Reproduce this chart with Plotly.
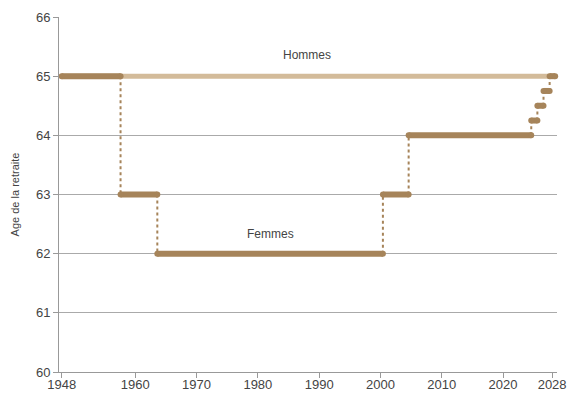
import plotly.graph_objects as go

# Data
step_years = [1948, 1957.6, 1963.6, 2000.4, 2004.6, 2024.6, 2025.6, 2026.6, 2027.6]
end_year = 2028.5
women_age = [65, 63, 62, 63, 64, 64.25, 64.5, 64.75, 65]
men_years = [1948, 2028.3]
men_age = [65, 65]
x_ticks = [1948, 1960, 1970, 1980, 1990, 2000, 2010, 2020, 2028]
y_ticks = [60, 61, 62, 63, 64, 65, 66]

DARK = "#a6845a"
LIGHT = "#d3bb9a"
FONT = "Liberation Sans, Arial, sans-serif"

fig = go.Figure()

# Hommes
fig.add_trace(go.Scatter(x=men_years, y=men_age, mode="lines+markers",
                         line=dict(color=LIGHT, width=5),
                         marker=dict(color=LIGHT, size=5),
                         hoverinfo="skip", showlegend=False))

# Femmes: vertical dotted connectors
vx, vy = [], []
for i in range(1, len(step_years)):
    vx += [step_years[i], step_years[i], None]
    vy += [women_age[i - 1], women_age[i], None]
fig.add_trace(go.Scatter(x=vx, y=vy, mode="lines",
                         line=dict(color=DARK, width=2, dash="dot"),
                         hoverinfo="skip", showlegend=False))

# Femmes: horizontal segments
ends = step_years[1:] + [end_year]
for x0, x1, a in zip(step_years, ends, women_age):
    fig.add_trace(go.Scatter(x=[x0, x1], y=[a, a], mode="lines+markers",
                             line=dict(color=DARK, width=6),
                             marker=dict(color=DARK, size=6),
                             cliponaxis=False,
                             hoverinfo="skip", showlegend=False))

fig.add_annotation(x=1988, y=65.35, text="Hommes", showarrow=False,
                   font=dict(family=FONT, size=12, color="#444"))
fig.add_annotation(x=1982, y=62.33, text="Femmes", showarrow=False,
                   font=dict(family=FONT, size=12, color="#444"))

fig.update_xaxes(range=[1947.56, 2028.8], tickvals=x_ticks,
                 ticktext=[str(t) for t in x_ticks],
                 showgrid=False, zeroline=False, automargin=False,
                 showline=True, linecolor="#999", linewidth=1,
                 ticks="outside", ticklen=5, tickcolor="#999",
                 ticklabelstandoff=-5,
                 tickfont=dict(family=FONT, size=13, color="#444"))
fig.update_yaxes(range=[60, 66], tickvals=y_ticks,
                 showgrid=True, gridcolor="#aaa", gridwidth=1,
                 zeroline=False, automargin=False,
                 showline=True, linecolor="#999", linewidth=1,
                 ticks="outside", ticklen=5, tickcolor="#999",
                 tickfont=dict(family=FONT, size=13, color="#444"),
                 title=dict(text="Age de la retraite", standoff=14,
                            font=dict(family=FONT, size=11, color="#444")))

fig.update_layout(width=568, height=394,
                  margin=dict(l=59, r=11, t=17, b=22),
                  plot_bgcolor="white", paper_bgcolor="white")

fig.write_html("out.html",
               config={"displayModeBar": False},
               post_script="document.body.style.margin='0';"
                           "document.body.style.overflow='hidden';")
